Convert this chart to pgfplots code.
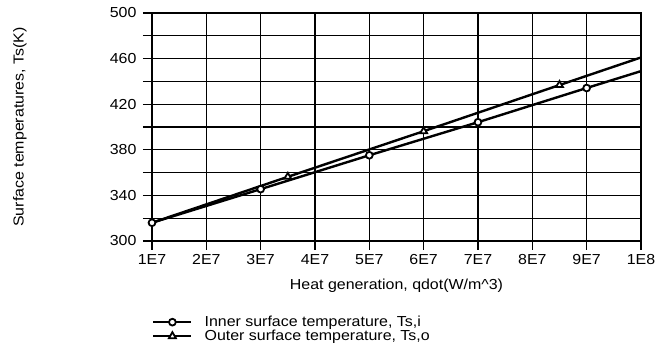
\documentclass[border=0pt]{standalone}
\usepackage{fontspec}
\setmainfont{Liberation Sans}[FakeStretch=1.1]
\usepackage{pgfplots}
\pgfplotsset{compat=1.18}

\begin{document}
\begin{tikzpicture}
\useasboundingbox (0pt,0pt) rectangle (657pt,350pt);
\begin{axis}[
    at={(152pt,109pt)}, anchor=south west,
    scale only axis, width=489pt, height=228pt,
    font=\fontsize{14.5}{16}\selectfont,
    /pgf/number format/assume math mode=true,
    xmin=1e7, xmax=1e8, ymin=300, ymax=500,
    xtick={1e7,2e7,3e7,4e7,5e7,6e7,7e7,8e7,9e7,1e8},
    xticklabels={1E7,2E7,3E7,4E7,5E7,6E7,7E7,8E7,9E7,1E8},
    scaled x ticks=false,
    ytick={300,340,...,500},
    minor ytick={320,360,...,480},
    grid=both,
    major grid style={black, line width=1.3pt},
    minor grid style={black, line width=1.3pt},
    axis line style={black, line width=2.4pt},
    tick style={black, line width=1.3pt},
    tick align=outside, major tick length=9pt, minor tick length=9pt,
    xtick pos=bottom, ytick pos=left,
    xticklabel style={yshift=-1pt},
    yticklabel style={xshift=-3pt},
    xlabel={Heat generation, qdot(W/m\^{}3)},
    ylabel={Surface temperatures, Ts(K)},
    xlabel style={yshift=-7pt},
    ylabel style={at={(axis description cs:-0.27,0.5)}, anchor=center},
    legend style={at={(axis description cs:0,-0.32)}, anchor=north west,
        draw=none, fill=none, font=\fontsize{14.5}{14}\selectfont,
        row sep=-2pt, inner sep=0pt},
    legend cell align=left,
    legend image code/.code={
        \draw[#1, mark indices={2}] plot coordinates {(0pt,0pt) (19pt,0pt) (38pt,0pt)};},
]
\addplot[black, line width=2.4pt, mark=*, mark size=3.4pt,
    mark options={fill=white, line width=1.8pt}, mark indices={1,2,3,4,5}]
    coordinates {(1e7,316) (3e7,345.5) (5e7,375.2) (7e7,404.2) (9e7,434.2) (1e8,449)};
\addlegendentry{\hspace{10pt}Inner surface temperature, Ts,i}
\addplot[black, line width=2.4pt, mark=triangle*, mark size=4pt,
    mark options={fill=white, line width=1.8pt}, mark indices={2,3,4}]
    coordinates {(1e7,316) (3.5e7,356.3) (6e7,396.3) (8.5e7,436.8) (1e8,461)};
\addlegendentry{\hspace{10pt}Outer surface temperature, Ts,o}
\end{axis}
\end{tikzpicture}
\end{document}
